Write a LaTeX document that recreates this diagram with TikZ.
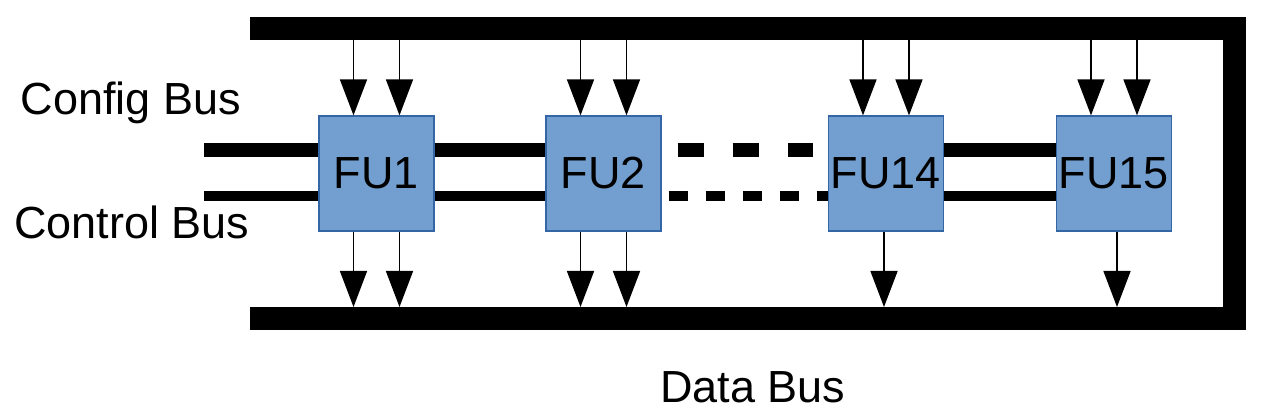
\documentclass[tikz,border=0pt]{standalone}
\usepackage{fontspec}
\setmainfont{Liberation Sans}
\usepackage{tikz}
\usetikzlibrary{arrows.meta}
\definecolor{fufill}{HTML}{729FCF}
\definecolor{fuedge}{HTML}{3465A4}
\tikzset{
  fubox/.style={draw=fuedge,fill=fufill,line width=0.6pt,minimum size=57.5pt,inner sep=0pt,font=\fontsize{22.5pt}{27pt}\selectfont},
  buslabel/.style={font=\fontsize{22.5pt}{27pt}\selectfont},
  databus/.style={line width=11.5pt,line join=miter},
  cfgbus/.style={line width=7pt},
  ctlbus/.style={line width=5pt},
  port/.style={-{Triangle[length=18pt,width=13.5pt]},line width=0.75pt}
}
\newcommand{\portIn}[2]{% node, x offset
  \draw[port] ([xshift=#2]#1.north |- topedge) -- ([xshift=#2]#1.north);
}
\newcommand{\portOut}[2]{% node, x offset
  \draw[port] ([xshift=#2]#1.south) -- ([xshift=#2]#1.south |- botedge);
}

\begin{document}
\begin{tikzpicture}[x=0.5pt,y=-0.5pt]
\useasboundingbox (0,0) rectangle (1270,416);

% Functional units
\node[fubox] (fu1) at (376.5,173.5) {FU1};
\node[fubox] (fu2) at (603.5,173.5) {FU2};
\node[fubox] (fu14) at (886,173.5) {FU14};
\node[fubox] (fu15) at (1114,173.5) {FU15};

% Data bus (loops round the right side)
\coordinate (dtop) at (250,28.5);
\coordinate (dcornera) at (1234,28.5);
\coordinate (dcornerb) at (1234,318.5);
\coordinate (dbot) at (250,318.5);
\draw[databus] (dtop) -- (dcornera) -- (dcornerb) -- (dbot);
\coordinate (topedge) at (0,40);
\coordinate (botedge) at (0,307);

% Inputs from the data bus
\foreach \fu in {fu1,fu2,fu14,fu15}{
  \portIn{\fu}{-11.5pt}
  \portIn{\fu}{11.5pt}
}

% Outputs to the data bus
\portOut{fu1}{-11.5pt}
\portOut{fu1}{11.5pt}
\portOut{fu2}{-11.5pt}
\portOut{fu2}{11.5pt}
\portOut{fu14}{-1pt}
\portOut{fu15}{1.5pt}

% Config and control buses
\coordinate (cfgin) at (204,150);
\coordinate (ctlin) at (204,196.5);
\draw[cfgbus] (cfgin) -- (fu1.west |- cfgin);
\draw[cfgbus] (fu1.east |- cfgin) -- (fu2.west |- cfgin);
\draw[cfgbus,dash pattern=on 13pt off 14.5pt,shorten <=8pt,shorten >=7.5pt] (fu2.east |- cfgin) -- (fu14.west |- cfgin);
\draw[cfgbus] (fu14.east |- cfgin) -- (fu15.west |- cfgin);
\draw[ctlbus] (ctlin) -- (fu1.west |- ctlin);
\draw[ctlbus] (fu1.east |- ctlin) -- (fu2.west |- ctlin);
\draw[ctlbus,dash pattern=on 9.5pt off 9pt,shorten <=3.5pt] (fu2.east |- ctlin) -- (fu14.west |- ctlin);
\draw[ctlbus] (fu14.east |- ctlin) -- (fu15.west |- ctlin);

% Labels
\node[buslabel] (cfglabel) at (131,103) {Config Bus};
\node[buslabel] (ctllabel) at (132,222) {Control Bus};
\node[buslabel] (datalabel) at (753,387) {Data Bus};
\end{tikzpicture}
\end{document}
